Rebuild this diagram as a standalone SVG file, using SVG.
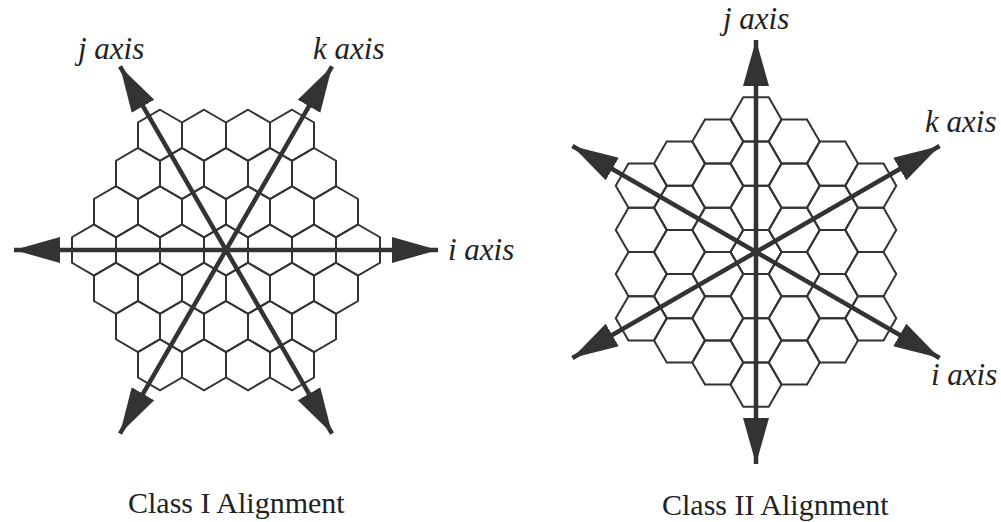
<svg xmlns="http://www.w3.org/2000/svg" xmlns:xlink="http://www.w3.org/1999/xlink" width="1001" height="522" viewBox="0 0 1001 522">
  <style>
    .hex { fill: none; stroke: #333; stroke-width: 2; stroke-linejoin: miter; }
    .axis { stroke: #333; stroke-width: 4.5; fill: none; marker-start: url(#ah); marker-end: url(#ah); }
    .lbl { font-family: "Liberation Serif", "Times New Roman", serif; font-style: italic; font-size: 31px; fill: #222; }
    .title { font-family: "Liberation Serif", "Times New Roman", serif; font-size: 30px; fill: #222; }
  </style>
  <defs>
    <marker id="ah" markerUnits="userSpaceOnUse" markerWidth="48" markerHeight="28" viewBox="0 -14 48 28" refX="46" refY="0" orient="auto-start-reverse">
      <path d="M0,-13 L46,0 L0,13 Z" fill="#333"/>
    </marker>
    <path id="hp" d="M0,-25.5 L22,-12.75 L22,12.75 L0,25.5 L-22,12.75 L-22,-12.75 Z"/>
    <path id="hf" d="M-25.5,0 L-12.75,-22.1 L12.75,-22.1 L25.5,0 L12.75,22.1 L-12.75,22.1 Z"/>
  </defs>
  <rect width="1001" height="522" fill="#fff"/>

  <g id="class1-grid" class="hex">
    <use href="#hp" x="160" y="135.25"/><use href="#hp" x="204" y="135.25"/><use href="#hp" x="248" y="135.25"/><use href="#hp" x="292" y="135.25"/>
    <use href="#hp" x="138" y="173.5"/><use href="#hp" x="182" y="173.5"/><use href="#hp" x="226" y="173.5"/><use href="#hp" x="270" y="173.5"/><use href="#hp" x="314" y="173.5"/>
    <use href="#hp" x="116" y="211.75"/><use href="#hp" x="160" y="211.75"/><use href="#hp" x="204" y="211.75"/><use href="#hp" x="248" y="211.75"/><use href="#hp" x="292" y="211.75"/><use href="#hp" x="336" y="211.75"/>
    <use href="#hp" x="94" y="250"/><use href="#hp" x="138" y="250"/><use href="#hp" x="182" y="250"/><use href="#hp" x="226" y="250"/><use href="#hp" x="270" y="250"/><use href="#hp" x="314" y="250"/><use href="#hp" x="358" y="250"/>
    <use href="#hp" x="116" y="288.25"/><use href="#hp" x="160" y="288.25"/><use href="#hp" x="204" y="288.25"/><use href="#hp" x="248" y="288.25"/><use href="#hp" x="292" y="288.25"/><use href="#hp" x="336" y="288.25"/>
    <use href="#hp" x="138" y="326.5"/><use href="#hp" x="182" y="326.5"/><use href="#hp" x="226" y="326.5"/><use href="#hp" x="270" y="326.5"/><use href="#hp" x="314" y="326.5"/>
    <use href="#hp" x="160" y="364.75"/><use href="#hp" x="204" y="364.75"/><use href="#hp" x="248" y="364.75"/><use href="#hp" x="292" y="364.75"/>
  </g>

  <g id="class2-grid" class="hex">
    <use href="#hf" x="641.25" y="185.7"/><use href="#hf" x="641.25" y="229.9"/><use href="#hf" x="641.25" y="274.1"/><use href="#hf" x="641.25" y="318.3"/>
    <use href="#hf" x="679.5" y="163.6"/><use href="#hf" x="679.5" y="207.8"/><use href="#hf" x="679.5" y="252"/><use href="#hf" x="679.5" y="296.2"/><use href="#hf" x="679.5" y="340.4"/>
    <use href="#hf" x="717.75" y="141.5"/><use href="#hf" x="717.75" y="185.7"/><use href="#hf" x="717.75" y="229.9"/><use href="#hf" x="717.75" y="274.1"/><use href="#hf" x="717.75" y="318.3"/><use href="#hf" x="717.75" y="362.5"/>
    <use href="#hf" x="756" y="119.4"/><use href="#hf" x="756" y="163.6"/><use href="#hf" x="756" y="207.8"/><use href="#hf" x="756" y="252"/><use href="#hf" x="756" y="296.2"/><use href="#hf" x="756" y="340.4"/><use href="#hf" x="756" y="384.6"/>
    <use href="#hf" x="794.25" y="141.5"/><use href="#hf" x="794.25" y="185.7"/><use href="#hf" x="794.25" y="229.9"/><use href="#hf" x="794.25" y="274.1"/><use href="#hf" x="794.25" y="318.3"/><use href="#hf" x="794.25" y="362.5"/>
    <use href="#hf" x="832.5" y="163.6"/><use href="#hf" x="832.5" y="207.8"/><use href="#hf" x="832.5" y="252"/><use href="#hf" x="832.5" y="296.2"/><use href="#hf" x="832.5" y="340.4"/>
    <use href="#hf" x="870.75" y="185.7"/><use href="#hf" x="870.75" y="229.9"/><use href="#hf" x="870.75" y="274.1"/><use href="#hf" x="870.75" y="318.3"/>
  </g>

  <g id="connectors">
    <line class="axis" x1="14" y1="250" x2="438" y2="250"/>
    <line class="axis" x1="332" y1="433.6" x2="120" y2="66.4"/>
    <line class="axis" x1="120" y1="433.6" x2="332" y2="66.4"/>
    <line class="axis" x1="756" y1="464" x2="756" y2="40"/>
    <line class="axis" x1="572.4" y1="358" x2="939.6" y2="146"/>
    <line class="axis" x1="572.4" y1="146" x2="939.6" y2="358"/>
  </g>

  <g id="labels">
    <text class="lbl" x="78" y="59">j axis</text>
    <text class="lbl" x="313" y="59">k axis</text>
    <text class="lbl" x="448" y="260">i axis</text>
    <text class="lbl" x="723" y="29">j axis</text>
    <text class="lbl" x="925" y="132">k axis</text>
    <text class="lbl" x="931" y="385">i axis</text>
    <text class="title" x="128" y="513">Class I Alignment</text>
    <text class="title" x="662" y="515">Class II Alignment</text>
  </g>
</svg>
